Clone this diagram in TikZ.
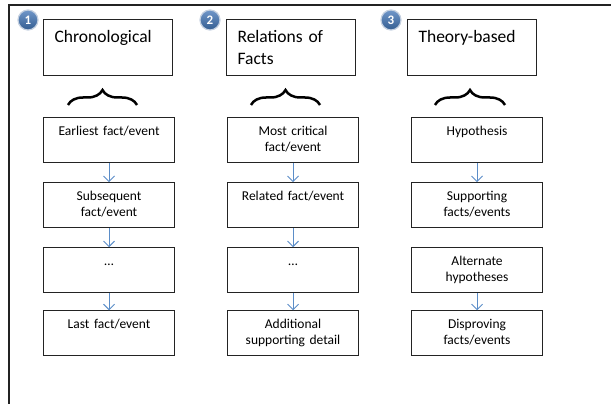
\documentclass[tikz,border=0pt]{standalone}
\usepackage{fontspec}
\setmainfont{Carlito}
\usetikzlibrary{arrows.meta,positioning,decorations.pathreplacing}

\definecolor{linkblue}{RGB}{91,141,200}
\definecolor{numtop}{RGB}{112,151,201}
\definecolor{numbot}{RGB}{52,93,145}
\definecolor{numring}{RGB}{196,208,224}
\definecolor{inkgray}{RGB}{35,35,35}

\begin{document}
\begin{tikzpicture}[
    x=1pt, y=-1pt,
    head/.style={draw=inkgray, line width=1.1pt, anchor=north west, align=left, text width=107pt, inner xsep=11pt, inner ysep=6pt, text height=17pt, text depth=27pt, font=\fontsize{17.5}{21.5}\selectfont},
    box/.style={draw=inkgray, line width=1.1pt, align=center, text width=123pt, inner xsep=4pt, inner ysep=4pt, text height=14pt, text depth=23pt, font=\fontsize{13.5}{16}\selectfont},
    num/.style={circle, top color=numtop, bottom color=numbot, draw=numring, line width=1.2pt, text=white, font=\bfseries\fontsize{13}{13}\selectfont, minimum size=20pt, inner sep=0pt},
    arrow/.style={-{Straight Barb[length=5.5pt,width=11pt]}, linkblue, line width=0.9pt},
    brace/.style={decorate, decoration={brace, amplitude=15pt}, line width=2.5pt}
  ]
    \useasboundingbox (0,0) rectangle (611,404);
    \draw[inkgray, line width=1.5pt] (9,404) -- (9,5) -- (611,5);

    % column headers
    \node[head] (chrono) at (43,19) {Chronological};
    \node[head] (relations) at (226,19) {Relations of\\Facts};
    \node[head] (theory) at (407,19) {Theory-based};
    \node[num] (n1) at (28,20) {1};
    \node[num] (n2) at (210,20) {2};
    \node[num] (n3) at (391,20) {3};

    \draw[brace] (68,105) -- (137,105);
    \draw[brace] (251,105) -- (320,105);
    \draw[brace] (435,105) -- (505,105);

    % chronological
    \node[box, anchor=north west] (earliest) at (43,117) {Earliest fact/event};
    \node[box, below=19pt of earliest] (subseq) {Subsequent\\fact/event};
    \node[box, below=19pt of subseq] (chronodots) {…};
    \node[box, below=17pt of chronodots] (last) {Last fact/event};
    \draw[arrow] (earliest) -- (subseq);
    \draw[arrow] (subseq) -- (chronodots);
    \draw[arrow] (chronodots) -- (last);

    % relations of facts
    \node[box, anchor=north west] (critical) at (227,117) {Most critical\\fact/event};
    \node[box, below=19pt of critical] (related) {Related fact/event};
    \node[box, below=19pt of related] (reldots) {…};
    \node[box, below=17pt of reldots] (additional) {Additional\\supporting detail};
    \draw[arrow] (critical) -- (related);
    \draw[arrow] (related) -- (reldots);
    \draw[arrow] (reldots) -- (additional);

    % theory-based
    \node[box, anchor=north west] (hypo) at (411,117) {Hypothesis};
    \node[box, below=19pt of hypo] (supporting) {Supporting\\facts/events};
    \node[box, below=19pt of supporting] (alternate) {Alternate\\hypotheses};
    \node[box, below=17pt of alternate] (disproving) {Disproving\\facts/events};
    \draw[arrow] (hypo) -- (supporting);
    \draw[arrow] (alternate) -- (disproving);
  \end{tikzpicture}
\end{document}
